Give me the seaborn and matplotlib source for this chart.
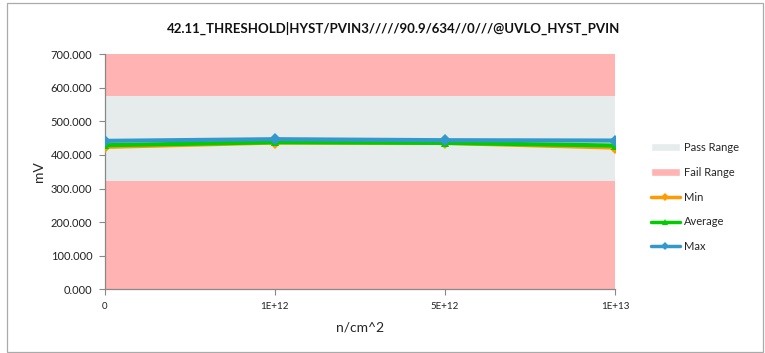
import seaborn as sns
import matplotlib.pyplot as plt
import pandas as pd
from matplotlib.patches import Patch, Rectangle

# chart values
fluence = ['0', '1E+12', '5E+12', '1E+13']
min_vals = [424, 437, 436, 422]
avg_vals = [429, 438, 436, 428]
max_vals = [442, 447, 444, 443]
pass_range = [323, 577]
y_limits = [0, 700]

sns.set_style('white')
plt.rcParams['font.family'] = ['Lato', 'DejaVu Sans']

df = pd.DataFrame({
    'fluence': fluence * 3,
    'value': min_vals + avg_vals + max_vals,
    'series': ['Min'] * 4 + ['Average'] * 4 + ['Max'] * 4,
})

colors = {'Min': '#FF9A00', 'Average': '#00CC00', 'Max': '#3399CC'}
markers = {'Min': 'D', 'Average': '^', 'Max': 'D'}

fig = plt.figure(figsize=(7.65, 3.53), dpi=100)
ax = fig.add_axes([0.137, 0.181, 0.667, 0.665])

# fail / pass bands
ax.axhspan(y_limits[0], pass_range[0], color='#FFB3B3', lw=0, zorder=0)
ax.axhspan(pass_range[1], y_limits[1], color='#FFB3B3', lw=0, zorder=0)
ax.axhspan(pass_range[0], pass_range[1], color='#E6ECEC', lw=0, zorder=0)

sns.lineplot(data=df, x='fluence', y='value', hue='series', style='series',
             palette=colors, markers=markers, dashes=False, linewidth=3,
             markersize=6, markeredgewidth=0, legend=False, ax=ax, zorder=3)

ax.set_xlim(0, len(fluence) - 1)
ax.set_ylim(*y_limits)
ax.set_yticks(range(0, 701, 100))
ax.set_yticklabels([f'{v:.3f}' for v in range(0, 701, 100)], fontsize=8)
ax.set_xticks(range(len(fluence)))
ax.set_xticklabels(fluence, fontsize=7)
ax.tick_params(axis='both', direction='out', length=4, width=0.8, color='#888888',
               left=True, bottom=True, pad=5, labelcolor='#222222')
for s in ['top', 'right']:
    ax.spines[s].set_visible(False)
for s in ['left', 'bottom']:
    ax.spines[s].set_color('#888888')
    ax.spines[s].set_linewidth(0.9)

ax.set_xlabel('n/cm^2', fontsize=10, labelpad=8)
ax.set_ylabel('mV', fontsize=10, labelpad=4)
fig.text(0.515, 0.92, '42.11_THRESHOLD|HYST/PVIN3/////90.9/634//0///@UVLO_HYST_PVIN',
         ha='center', va='center', fontsize=9.5, fontweight='bold', color='#111111')

handles = [
    Patch(facecolor='#E6ECEC', label='Pass Range'),
    Patch(facecolor='#FFB3B3', label='Fail Range'),
    plt.Line2D([], [], color=colors['Min'], lw=2.5, marker='D', ms=4, mew=0, label='Min'),
    plt.Line2D([], [], color=colors['Average'], lw=2.5, marker='^', ms=5, mew=0, label='Average'),
    plt.Line2D([], [], color=colors['Max'], lw=2.5, marker='D', ms=4, mew=0, label='Max'),
]
fig.legend(handles=handles, loc='upper left', bbox_to_anchor=(0.845, 0.61),
           frameon=False, fontsize=8, labelspacing=1.24, handlelength=2.6,
           handletextpad=0.35, borderaxespad=0)

fig.add_artist(Rectangle((0.009, 0.003), 0.989, 0.988, transform=fig.transFigure,
                         fill=False, edgecolor='#AAAAAA', lw=0.9))

fig.savefig('out.png', dpi=100)
